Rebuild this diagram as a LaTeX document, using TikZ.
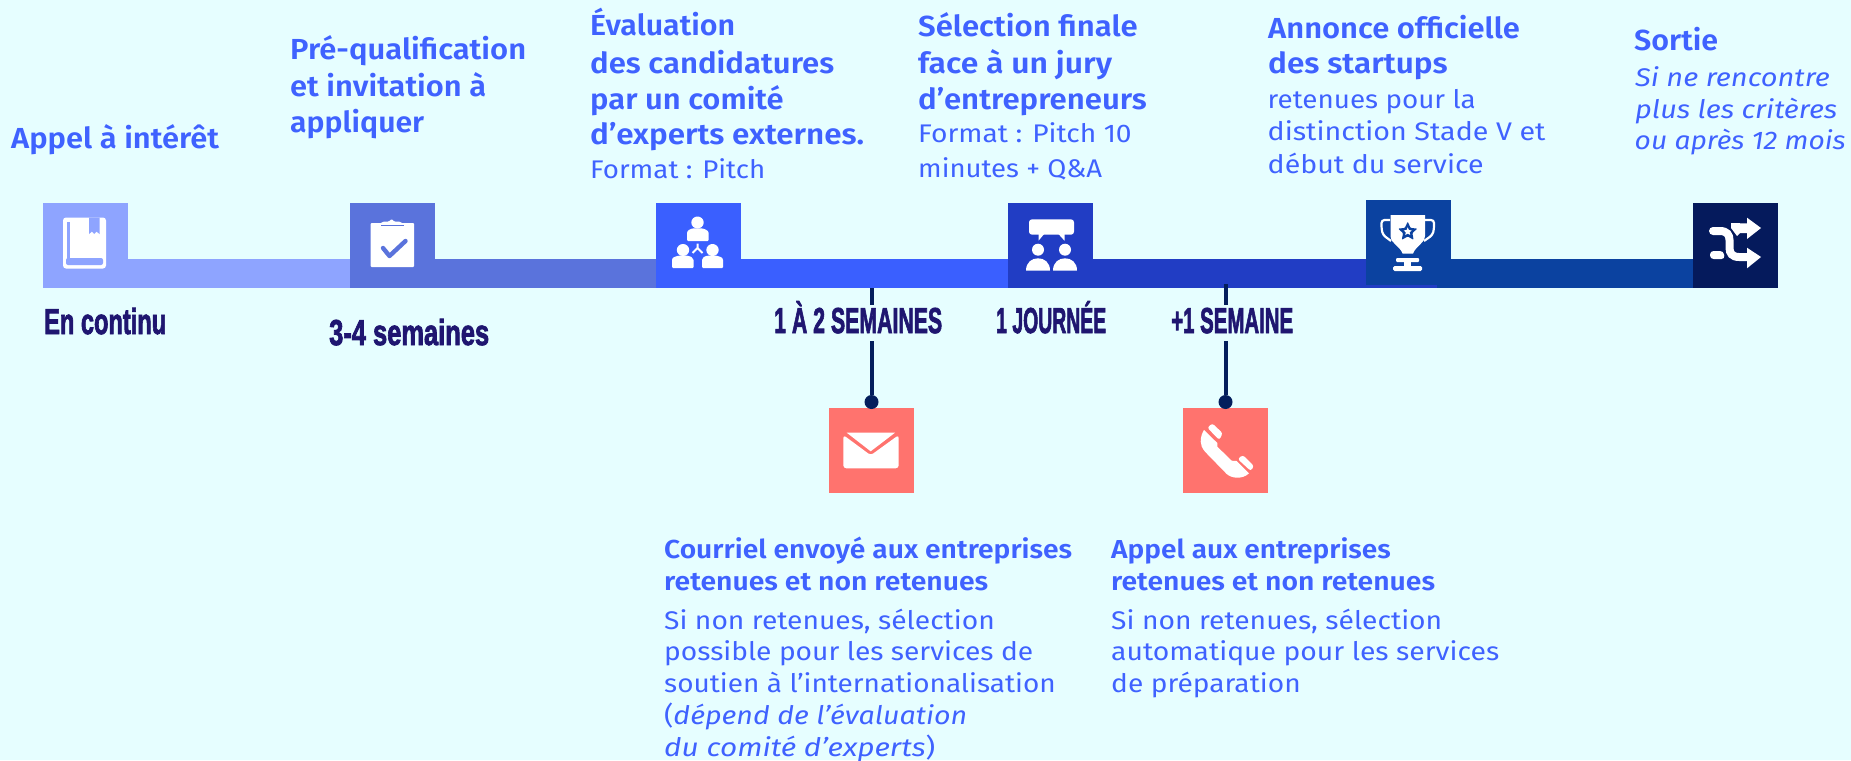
\documentclass[tikz,border=0pt]{standalone}
\usepackage{fontspec}
\usepackage{graphicx}
\setmainfont{Fira Sans}[BoldFont={Fira Sans SemiBold},ItalicFont={Fira Sans Italic}]
\newfontfamily\cond[FakeBold=2.5]{Liberation Sans Bold}
\definecolor{bgc}{HTML}{E6FEFF}
\definecolor{txtb}{HTML}{3F62FF}
\definecolor{dk}{HTML}{1F1670}
\definecolor{cA}{HTML}{8EA4FF}
\definecolor{cB}{HTML}{5A73DC}
\definecolor{cC}{HTML}{3A5FFF}
\definecolor{cD}{HTML}{213DC4}
\definecolor{cE}{HTML}{0B42A0}
\definecolor{cF}{HTML}{051A5C}
\definecolor{cor}{HTML}{FF736E}
\definecolor{cline}{HTML}{041E5C}
\tikzset{x=1pt,y=-1pt,
 sq/.style={minimum size=85pt,inner sep=0pt,outer sep=0pt,anchor=north west,fill=#1},
 lab/.style={text=dk,inner sep=0pt,anchor=base west,font=\cond\fontsize{36}{36}\selectfont},
 hd/.style={text=txtb,inner sep=0pt,anchor=base west,font=\fontsize{29}{36}\selectfont\bfseries},
 hs/.style={text=txtb,inner sep=0pt,anchor=base west,font=\fontsize{26}{36}\selectfont\bfseries},
 bd/.style={text=txtb,inner sep=0pt,anchor=base west,font=\fontsize{25.5}{36}\selectfont},
 it/.style={text=txtb,inner sep=0pt,anchor=base west,font=\fontsize{25.5}{36}\selectfont\itshape},
 conn/.style={draw=cline,line width=4pt},
 dotn/.style={circle,fill=cline,minimum size=14pt,inner sep=0pt},
}
\newcommand{\lbl}[2]{\resizebox{#1pt}{\height}{#2}}
\begin{document}
\begin{tikzpicture}
\useasboundingbox (0,0) rectangle (1851,760);
\fill[bgc] (0,0) rectangle (1851,760);
% boxes
\coordinate (k0) at (43,259);
\coordinate (k4) at (1437,259);
\node[sq=cB] (b2) at (350,203) {};
\node[sq=cC] (b3) at (656,203) {};
\node[sq=cD] (b4) at (1008,203) {};
\node[sq=cF] (b6) at (1693,203) {};
\node[sq=cA] (b1) at (43,203) {};
\fill[cA] (k0) rectangle (b2.south west);
\fill[cB] (b2.west |- k0) rectangle (b3.south west);
\fill[cC] (b3.west |- k0) rectangle (b4.south west);
\fill[cD] (b4.west |- k0) rectangle (k4 |- b4.south);
\fill[cE] (k4) rectangle (b6.south west);
\node[sq=cE] (b5) at (1366,200) {};
% icons
\begin{scope}[shift={(b1.north west)}]
 \fill[white,rounded corners=3pt] (20,14.5) -- (63,14.5) -- (63,65.5) -- (20,65.5) -- cycle;
 \fill[cA] (24,19) rectangle (26.6,56);
 \fill[cA,rounded corners=2pt] (23,55) rectangle (60,62);
 \fill[cA] (46,14.5) -- (46,31) -- (49,28.5) -- (51.2,31) -- (53.5,28.5) -- (56.5,31) -- (56.5,14.5) -- cycle;
\end{scope}
\begin{scope}[shift={(b2.north west)}]
 \fill[white,rounded corners=1pt] (20.5,64) -- (20.5,20) -- (32,20) -- (33,18.5) -- (39,18.5) -- (41.5,16) -- (44,18.5) -- (50,18.5) -- (51,20) -- (64,20) -- (64,64) -- cycle;
 \draw[cB,line width=1.6pt] (31,22.5) -- (54,22.5);
 \draw[cB,line width=4.4pt,line cap=round,line join=round] (33,45) -- (39.5,53) -- (55.5,38);
\end{scope}
\begin{scope}[shift={(b3.north west)}]
 \fill[white] (41.5,19.5) ellipse (6.2 and 6);
 \fill[white,rounded corners=1pt] (31,38) -- (31,31) .. controls (31,27) and (35,26) .. (37,25.3) -- (46,25.3) .. controls (48,26) and (52.6,27) .. (52.6,31) -- (52.6,38) -- cycle;
 \fill[white] (27,47) ellipse (6.2 and 6);
 \fill[white,rounded corners=1pt] (16,65) -- (16,58) .. controls (16,54) and (20,53.5) .. (22,52.7) -- (32,52.7) .. controls (34,53.5) and (37.5,54) .. (37.5,58) -- (37.5,65) -- cycle;
 \fill[white] (56.5,47) ellipse (6.2 and 6);
 \fill[white,rounded corners=1pt] (46,65) -- (46,58) .. controls (46,54) and (49,53.5) .. (51,52.7) -- (61,52.7) .. controls (63,53.5) and (67,54) .. (67,58) -- (67,65) -- cycle;
 \draw[white,line width=2pt] (41.5,40.5) -- (41.5,45) (36.5,50) -- (41.5,45) -- (46.5,50);
\end{scope}
\begin{scope}[shift={(b4.north west)}]
 \fill[white,rounded corners=3pt] (21,16.3) rectangle (66,31.7);
 \fill[white] (30.5,30) -- (30.5,37.7) -- (37,30) -- cycle;
 \fill[white] (49.5,30) -- (56.5,37.7) -- (56.5,30) -- cycle;
 \fill[white] (30,46.7) ellipse (6 and 6);
 \fill[white] (57,46.7) ellipse (6 and 6);
 \fill[white] (18,67.7) .. controls (18,59) and (24,55.3) .. (30,55.3) .. controls (36,55.3) and (42,59) .. (42,67.7) -- cycle;
 \fill[white] (45,67.7) .. controls (45,59) and (51,55.3) .. (57,55.3) .. controls (63,55.3) and (69,59) .. (69,67.7) -- cycle;
\end{scope}
\begin{scope}[shift={(b5.north west)}]
 \draw[white,line width=2.2pt,rounded corners=3pt] (24,20) -- (15.5,20) -- (15.5,29) -- (17,35) -- (25,41);
 \draw[white,line width=2.2pt,rounded corners=3pt] (59,20) -- (68,20) -- (68,29) -- (66.5,35) -- (58,41);
 \fill[white] (24.5,15) -- (59,15) -- (59,36) .. controls (58,44) and (50,46) .. (47,53.5) -- (36.5,53.5) .. controls (34,46) and (25,44) .. (24.5,36) -- cycle;
 \fill[white,rounded corners=1pt] (30,58) rectangle (53,62);
 \fill[white] (38,60) rectangle (45,68);
 \fill[white,rounded corners=1.5pt] (27,66) rectangle (56,71);
 \fill[cE,rounded corners=0.8pt] (41.7,21.7) -- (44.6,27.9) -- (51.2,28.6) -- (46.4,33.2) -- (47.6,39.8) -- (41.7,36.5) -- (35.8,39.8) -- (37,33.2) -- (32.2,28.6) -- (38.8,27.9) -- cycle;
 \fill[white] (41.7,27.4) -- (42.9,30.1) -- (45.7,30.4) -- (43.6,32.3) -- (44.2,35) -- (41.7,33.6) -- (39.2,35) -- (39.8,32.3) -- (37.7,30.4) -- (40.5,30.1) -- cycle;
\end{scope}
\begin{scope}[shift={(b6.north west)}]
 \draw[white,line width=8pt,line cap=round] (20,28) -- (27,28) .. controls (34,28) and (36.5,32) .. (36.5,37) -- (36.5,45) .. controls (36.5,50) and (39,54) .. (46,54) -- (56,54);
 \fill[white] (54,44.7) -- (68,54) -- (54,65.3) -- cycle;
 \fill[white] (38,20) -- (56,20.5) -- (56,30) -- (47,30) -- (44,33) -- (38,25) -- cycle;
 \fill[white] (54,14.7) -- (68,25) -- (54,36) -- cycle;
 \fill[white,rounded corners=3.5pt] (17,48) -- (30.5,48) -- (32,56) -- (17,56) -- cycle;
 \draw[cF,line width=1.4pt] (31.5,47.5) -- (33,56.5);
\end{scope}
% coral
\node[sq=cor] (m1) at (829,408) {};
\node[sq=cor] (m2) at (1183,408) {};
\begin{scope}[shift={(m1.north west)}]
 \fill[white] (17.7,24.7) -- (66,24.7) -- (41.7,43.3) -- cycle;
 \fill[white,rounded corners=3pt] (14.3,60.3) -- (14.3,27) -- (41.7,47.3) -- (69.7,27) -- (69.7,60.3) -- cycle;
\end{scope}
\begin{scope}[shift={(m2.north west)}]
 \fill[white] (21,22) -- (34.3,35) -- (34.3,38.7) -- (48.7,52.7) -- (53.7,53) -- (66,65.3) .. controls (62,69) and (58,69.7) .. (53.7,69.7) .. controls (50,69.7) and (46,68) .. (43.7,66) -- (22,43.7) .. controls (19,40) and (17.7,37) .. (17.7,33.7) .. controls (17.7,29) and (19,25) .. (21,22) -- cycle;
 \fill[white,rounded corners=2.5pt] (24.3,19.7) -- (29.3,15.3) -- (39.7,25.3) -- (36.3,32) -- cycle;
 \fill[white,rounded corners=2.5pt] (54.7,51) -- (59.7,47) -- (71,58) -- (67.7,63) -- cycle;
\end{scope}
% connectors
\coordinate (c1) at (871.5,288);
\coordinate (c2) at (1225.5,284);
\node[dotn] (d1) at (m1.north |- 0,402) {};
\node[dotn] (d2) at (m2.north |- 0,402) {};
\draw[conn] (c1) -- (d1);
\draw[conn] (c2) -- (d2);
% labels
\node[lab] (l1) at (44,334) {\lbl{122}{En continu}};
\node[lab] (l2) at (329,345) {\lbl{160}{3-4 semaines}};
\node[lab,fill=bgc,text height=28pt,text depth=8pt] (l3) at (774,333) {\lbl{168}{1 À 2 SEMAINES}};
\node[lab] (l4) at (996,333) {\lbl{110}{1 JOURNÉE}};
\node[lab,fill=bgc,text height=28pt,text depth=8pt] (l5) at (1171,333) {\lbl{122}{+1 SEMAINE}};
% top texts
\node[hd] (t1a) at (11,148) {\lbl{208}{Appel à intérêt}};
\node[hd] (t2a) at (290,60) {\lbl{236}{Pré-qualification}};
\node[hd] (t2b) at (290,96) {\lbl{196}{et invitation à}};
\node[hd] (t2c) at (290,132) {\lbl{134}{appliquer}};
\node[hd] (t3a) at (590,36) {\lbl{145}{Évaluation}};
\node[hd] (t3b) at (590,73) {\lbl{244}{des candidatures}};
\node[hd] (t3c) at (590,109) {\lbl{193.5}{par un comité}};
\node[hd] (t3d) at (590,144) {\lbl{274}{d’experts externes.}};
\node[bd] (t3e) at (590,178) {\lbl{175}{Format : Pitch}};
\node[hd] (t4a) at (918,37) {\lbl{219.5}{Sélection finale}};
\node[hd] (t4b) at (918,74) {\lbl{194}{face à un jury}};
\node[hd] (t4c) at (918,109) {\lbl{228.6}{d’entrepreneurs}};
\node[bd] (t4d) at (918,142) {\lbl{213.5}{Format : Pitch 10}};
\node[bd] (t4e) at (918,177) {\lbl{184}{minutes + Q\&A}};
\node[hd] (t5a) at (1268,38) {\lbl{251.7}{Annonce officielle}};
\node[hd] (t5b) at (1268,74) {\lbl{179.5}{des startups}};
\node[bd] (t5c) at (1267.5,108) {\lbl{208}{retenues pour la}};
\node[bd] (t5d) at (1267.5,140) {\lbl{277.7}{distinction Stade V et}};
\node[bd] (t5e) at (1267.5,173) {\lbl{216}{début du service}};
\node[hd] (t6a) at (1634,51) {\lbl{84}{Sortie}};
\node[it] (t6b) at (1635,86) {\lbl{194.7}{Si ne rencontre}};
\node[it] (t6c) at (1635,118) {\lbl{202}{plus les critères}};
\node[it] (t6d) at (1634.5,149) {\lbl{211}{ou après 12 mois}};
% bottom texts
\node[hs] (t7a) at (664,558) {\lbl{408}{Courriel envoyé aux entreprises}};
\node[hs] (t7b) at (664,590) {\lbl{324}{retenues et non retenues}};
\node[bd] (t7c) at (664,629) {\lbl{330.6}{Si non retenues, sélection}};
\node[bd] (t7d) at (664,660) {\lbl{369}{possible pour les services de}};
\node[bd] (t7e) at (664,692) {\lbl{391.5}{soutien à l’internationalisation}};
\node[bd] (t7f) at (664,724) {\lbl{303}{({\itshape dépend de l’évaluation}}};
\node[it] (t7g) at (664,756) {\lbl{271}{du comité d’experts{\upshape)}}};
\node[hs] (t8a) at (1111,558) {\lbl{279.6}{Appel aux entreprises}};
\node[hs] (t8b) at (1111,590) {\lbl{323.8}{retenues et non retenues}};
\node[bd] (t8c) at (1111,629) {\lbl{331}{Si non retenues, sélection}};
\node[bd] (t8d) at (1111,660) {\lbl{388}{automatique pour les services}};
\node[bd] (t8e) at (1111,692) {\lbl{189.5}{de préparation}};
\end{tikzpicture}
\end{document}
